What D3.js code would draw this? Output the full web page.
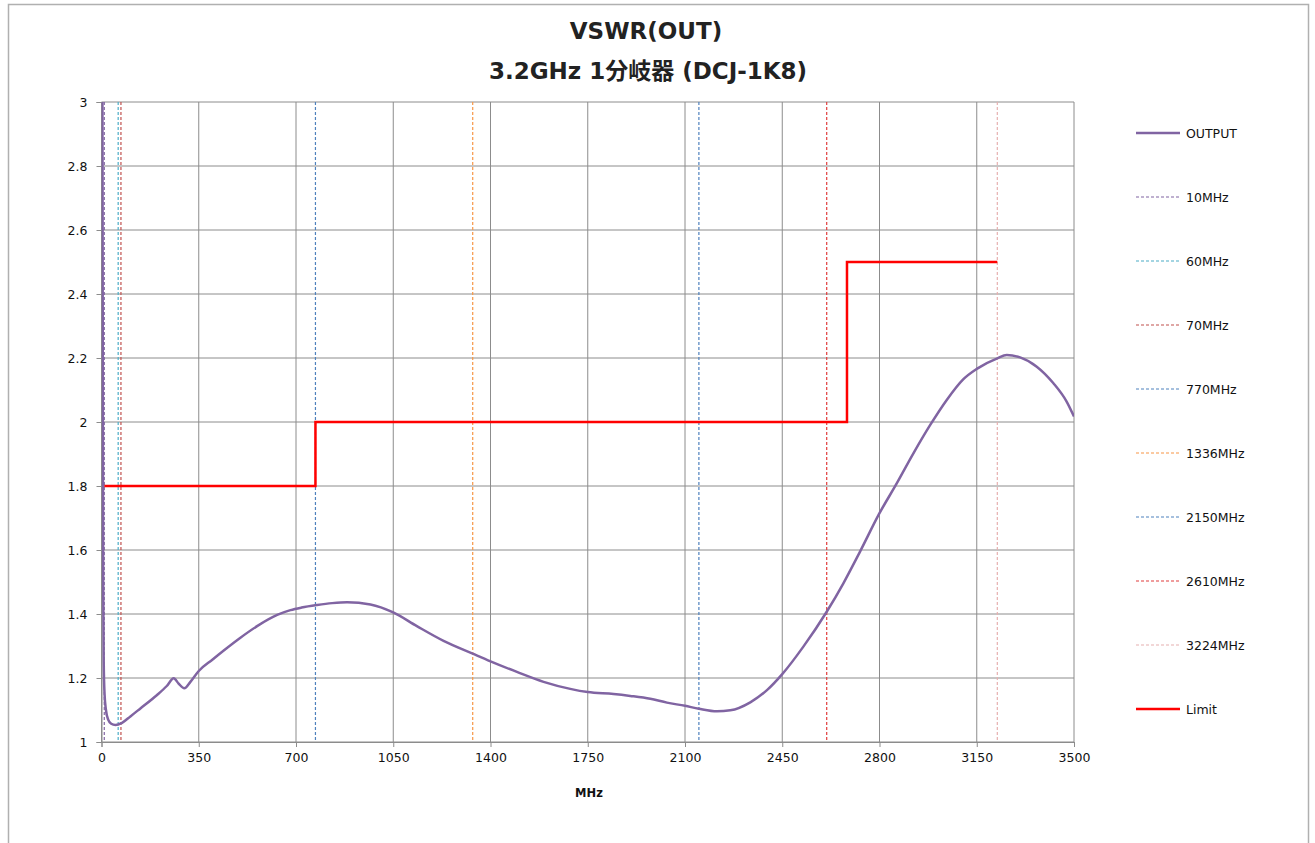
<!DOCTYPE html>
<html>
<head>
<meta charset="utf-8">
<script src="https://cdn.jsdelivr.net/npm/d3@7"></script>
<style>
  body { margin: 0; background: #fff; }
  text { font-family: "DejaVu Sans", Verdana, sans-serif; }
</style>
</head>
<body>
<svg id="chart" width="1315" height="843"></svg>
<script>
// ---- data ----
const freqMHz = [1, 3, 4, 5, 6, 8, 11, 16, 24, 35, 50, 74, 104, 140, 200, 235, 260, 278, 298, 320, 350, 400, 440, 500, 560, 632, 680, 720, 776, 830, 884, 968, 1050, 1135, 1231, 1336, 1400, 1495, 1591, 1687, 1750, 1843, 1903, 1975, 2035, 2100, 2150, 2215, 2263, 2335, 2395, 2450, 2526, 2610, 2670, 2730, 2800, 2862, 2922, 2982, 3042, 3102, 3150, 3224, 3258, 3306, 3366, 3426, 3474, 3500];
const vswrOut = [3.8, 3.2, 2.6, 2.0, 1.5, 1.25, 1.15, 1.1, 1.07, 1.057, 1.053, 1.06, 1.08, 1.105, 1.147, 1.175, 1.199, 1.182, 1.168, 1.188, 1.222, 1.258, 1.286, 1.326, 1.362, 1.397, 1.412, 1.42, 1.428, 1.434, 1.437, 1.430, 1.405, 1.362, 1.316, 1.276, 1.252, 1.219, 1.188, 1.166, 1.156, 1.15, 1.144, 1.135, 1.123, 1.113, 1.104, 1.096, 1.099, 1.124, 1.162, 1.212, 1.298, 1.407, 1.496, 1.595, 1.715, 1.808, 1.902, 1.99, 2.069, 2.134, 2.166, 2.199, 2.209, 2.202, 2.173, 2.121, 2.063, 2.017];

const limitFreq = [10, 770, 770, 2683, 2683, 3224];
const limitVal  = [1.8, 1.8, 2.0, 2.0, 2.5, 2.5];

const markerNames = ["10MHz", "60MHz", "70MHz", "770MHz", "1336MHz", "2150MHz", "2610MHz", "3224MHz"];
const markerFreq  = [10, 60, 70, 770, 1336, 2150, 2610, 3224];
const markerColors = ["#8064A2", "#4BACC6", "#C0504D", "#4F81BD", "#F79646", "#4F81BD", "#E03C3C", "#E6B0B0"];

const xTicks = [0, 350, 700, 1050, 1400, 1750, 2100, 2450, 2800, 3150, 3500];
const yTicks = [1, 1.2, 1.4, 1.6, 1.8, 2, 2.2, 2.4, 2.6, 2.8, 3];

const titleLines = ["VSWR(OUT)", "3.2GHz 1分岐器 (DCJ-1K8)"];
const xTitle = "MHz";

// ---- layout ----
const svg = d3.select("#chart");
const L = 101.5, R = 1074, T = 102, B = 742;
const x = d3.scaleLinear().domain([0, 3500]).range([L, R]);
const y = d3.scaleLinear().domain([1, 3]).range([B, T]);

// outer frame
svg.append("rect").attr("x", 8.5).attr("y", 4.5).attr("width", 1300).attr("height", 860)
  .attr("fill", "none").attr("stroke", "#b0b0b0").attr("stroke-width", 1.5);

// titles
const titleFont = "'DejaVu Sans', 'Noto Sans CJK JP', sans-serif";
svg.append("text").attr("x", 646).attr("y", 39).attr("text-anchor", "middle")
  .style("font-family", titleFont).style("font-weight", "bold").style("font-size", "23px")
  .attr("fill", "#222").text(titleLines[0]);
svg.append("text").attr("x", 648).attr("y", 79).attr("text-anchor", "middle")
  .style("font-family", titleFont).style("font-weight", "bold").style("font-size", "23px")
  .attr("fill", "#222").text(titleLines[1]);

// grid
const grid = svg.append("g");
grid.selectAll(".gx").data(xTicks).enter().append("line")
  .attr("x1", d => x(d)).attr("x2", d => x(d)).attr("y1", T).attr("y2", B)
  .attr("stroke", "#8c8c8c").attr("stroke-width", 1);
grid.selectAll(".gy").data(yTicks).enter().append("line")
  .attr("x1", L).attr("x2", R).attr("y1", d => y(d)).attr("y2", d => y(d))
  .attr("stroke", "#8c8c8c").attr("stroke-width", 1);

// axes
const xAxis = svg.append("g").attr("transform", `translate(0,${B})`)
  .call(d3.axisBottom(x).tickValues(xTicks).tickSize(5).tickPadding(6).tickFormat(d3.format("d")));
const yAxis = svg.append("g").attr("transform", `translate(${L},0)`)
  .call(d3.axisLeft(y).tickValues(yTicks).tickSize(5).tickPadding(9).tickFormat(d => String(d)));
[xAxis, yAxis].forEach(a => {
  a.select(".domain").attr("stroke", "#8c8c8c");
  a.selectAll(".tick line").attr("stroke", "#8c8c8c");
  a.selectAll("text").style("font-family", "'DejaVu Sans', sans-serif").style("font-size", "12.5px").attr("fill", "#111");
});

svg.append("text").attr("x", 589).attr("y", 797).attr("text-anchor", "middle")
  .style("font-weight", "bold").style("font-size", "11.5px").attr("fill", "#111").text(xTitle);

// clip
svg.append("clipPath").attr("id", "plotclip").append("rect")
  .attr("x", L).attr("y", T).attr("width", R - L).attr("height", B - T);
const plot = svg.append("g").attr("clip-path", "url(#plotclip)");

// markers
markerFreq.forEach((f, i) => {
  plot.append("line").attr("x1", x(f)).attr("x2", x(f)).attr("y1", T).attr("y2", B)
    .attr("stroke", markerColors[i]).attr("stroke-width", 1.2).attr("stroke-dasharray", "3,2");
});

// limit
const limitData = limitFreq.map((f, i) => [f, limitVal[i]]);
plot.append("path").datum(limitData)
  .attr("d", d3.line().x(d => x(d[0])).y(d => y(d[1])))
  .attr("fill", "none").attr("stroke", "#FF0000").attr("stroke-width", 2.5);

// output curve
const outData = freqMHz.map((f, i) => [f, vswrOut[i]]);
plot.append("path").datum(outData)
  .attr("d", d3.line().curve(d3.curveMonotoneX).x(d => x(d[0])).y(d => y(d[1])))
  .attr("fill", "none").attr("stroke", "#8064A2").attr("stroke-width", 2.5);

// legend
const legNames = ["OUTPUT"].concat(markerNames).concat(["Limit"]);
const legColors = ["#8064A2"].concat(markerColors).concat(["#FF0000"]);
const legDash = [null].concat(markerNames.map(() => "3,2")).concat([null]);
const legW = [2.5].concat(markerNames.map(() => 1.2)).concat([2.5]);
legNames.forEach((n, i) => {
  const yy = 133 + i * 64;
  svg.append("line").attr("x1", 1136).attr("x2", 1180).attr("y1", yy).attr("y2", yy)
    .attr("stroke", legColors[i]).attr("stroke-width", legW[i])
    .attr("stroke-dasharray", legDash[i]);
  svg.append("text").attr("x", 1186).attr("y", yy + 4.5).style("font-size", "12.5px")
    .attr("fill", "#111").text(n);
});
</script>
</body>
</html>
